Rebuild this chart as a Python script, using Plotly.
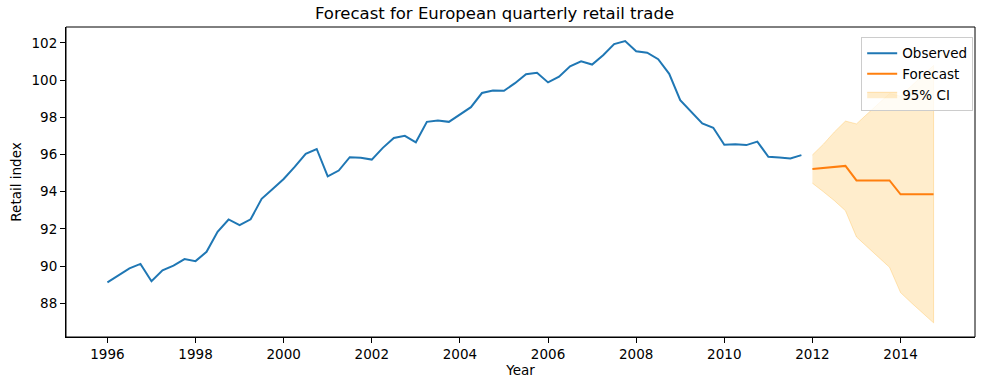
import plotly.graph_objects as go

# Observed quarterly euro retail index, 1996Q1 - 2011Q4
obs_start_year = 1996
observed = [
    89.13, 89.52, 89.88, 90.12,
    89.19, 89.78, 90.03, 90.38,
    90.27, 90.77, 91.85, 92.51,
    92.21, 92.52, 93.62, 94.15,
    94.69, 95.34, 96.04, 96.30,
    94.83, 95.14, 95.86, 95.83,
    95.73, 96.36, 96.89, 97.01,
    96.66, 97.76, 97.83, 97.76,
    98.17, 98.55, 99.31, 99.44,
    99.43, 99.84, 100.32, 100.40,
    99.88, 100.19, 100.75, 101.01,
    100.84, 101.34, 101.94, 102.10,
    101.56, 101.48, 101.13, 100.34,
    98.93, 98.31, 97.67, 97.44,
    96.53, 96.56, 96.51, 96.70,
    95.88, 95.84, 95.79, 95.97,
]

# Forecast 2012Q1 - 2014Q4
fc_start_year = 2012
forecast = [95.22, 95.28, 95.37, 95.39,
            94.61, 94.61, 94.61, 94.61,
            93.86, 93.86, 93.86, 93.87]
lower = [94.46, 94.00, 93.52, 92.98,
         91.57, 91.00, 90.48, 89.94,
         88.58, 88.02, 87.47, 86.95]
upper = [95.98, 96.56, 97.22, 97.80,
         97.65, 98.22, 98.74, 99.28,
         99.14, 99.70, 100.25, 100.79]

x_obs = [obs_start_year + i * 0.25 for i in range(len(observed))]
x_fc = [fc_start_year + i * 0.25 for i in range(len(forecast))]

FONT = "DejaVu Sans, Liberation Sans, sans-serif"

fig = go.Figure()
fig.add_trace(go.Scatter(
    x=x_fc + x_fc[::-1], y=upper + lower[::-1],
    fill="toself", fillcolor="rgba(255,165,0,0.2)",
    line=dict(color="rgba(255,165,0,0.25)", width=1),
    mode="lines", name="95% CI", legendrank=3, hoverinfo="skip"))
fig.add_trace(go.Scatter(
    x=x_obs, y=observed, mode="lines", name="Observed",
    line=dict(color="#1f77b4", width=2), legendrank=1))
fig.add_trace(go.Scatter(
    x=x_fc, y=forecast, mode="lines", name="Forecast",
    line=dict(color="#ff7f0e", width=2), legendrank=2))

axis_common = dict(showline=True, linecolor="black", linewidth=1,
                   ticks="outside", ticklen=5, tickwidth=1, tickcolor="black",
                   showgrid=False, zeroline=False, automargin=False,
                   tickfont=dict(family=FONT, size=13.5, color="black"))

fig.update_layout(
    width=989, height=390,
    margin=dict(l=66, r=14, t=27, b=53),
    paper_bgcolor="white", plot_bgcolor="white",
    font=dict(family=FONT, size=13.5, color="black"),
    title=dict(text="Forecast for European quarterly retail trade",
               x=0.5, xanchor="center", y=1 - 13 / 390, yanchor="middle",
               yref="container", font=dict(family=FONT, size=16.5, color="black")),
    xaxis=dict(range=[1995.06, 2015.69], tickmode="linear", tick0=1996, dtick=2,
               title=dict(text="Year", standoff=4, font=dict(size=13.5)),
               **axis_common),
    yaxis=dict(range=[86.19, 102.86], tickmode="linear", tick0=88, dtick=2,
               title=dict(text="Retail index", standoff=6, font=dict(size=13.5)),
               **axis_common),
    legend=dict(x=0.998, y=0.968, xanchor="right", yanchor="top",
                bgcolor="rgba(255,255,255,0.8)", bordercolor="#cccccc", borderwidth=1,
                font=dict(family=FONT, size=13.5, color="black"),
                tracegroupgap=0, itemwidth=30),
    showlegend=True,
    shapes=[dict(type="rect", xref="paper", yref="paper", x0=0, x1=1, y0=0, y1=1,
                 line=dict(color="black", width=1), fillcolor="rgba(0,0,0,0)",
                 layer="above")],
)

fig.write_html(
    "out.html",
    config={"displayModeBar": False},
    post_script="document.body.style.margin='0';document.body.style.overflow='hidden';",
)
